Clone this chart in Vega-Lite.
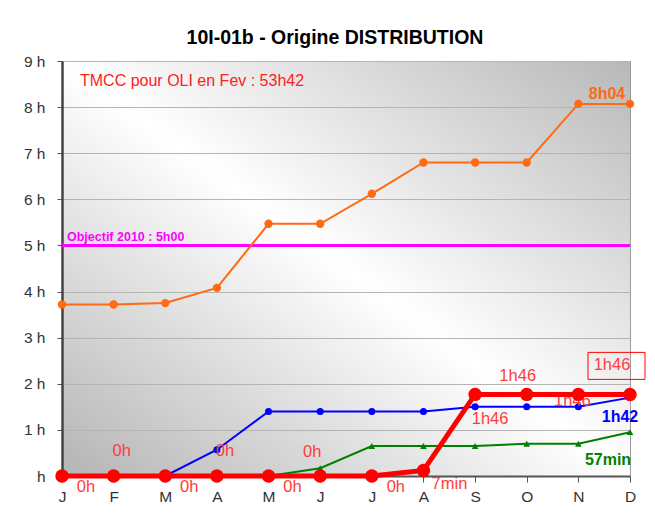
{
  "$schema": "https://vega.github.io/schema/vega-lite/v6.json",
  "width": 568,
  "height": 415,
  "autosize": "none",
  "padding": {"left": 62, "top": 61, "right": 25, "bottom": 45},
  "background": "white",
  "title": {"text": "10I-01b - Origine DISTRIBUTION", "font": "Liberation Sans", "fontSize": 19.5, "fontWeight": "bold", "color": "#000000", "anchor": "middle", "frame": "group", "dx": -11, "offset": 6},
  "config": {
    "font": "Liberation Sans",
    "view": {
      "stroke": "#9a9a9a",
      "fill": {"gradient": "linear", "x1": 0, "y1": 1, "x2": 1, "y2": 0, "stops": [{"offset": 0, "color": "#b4b4b4"}, {"offset": 0.5, "color": "#ffffff"}, {"offset": 1, "color": "#b8b8b8"}]}
    },
    "text": {"font": "Liberation Sans"}
  },
  "datasets": {
    "series": [
      {"s": "TMCC", "m": "Jan", "v": 3.72}, {"s": "TMCC", "m": "Feb", "v": 3.72}, {"s": "TMCC", "m": "Mar", "v": 3.75}, {"s": "TMCC", "m": "Apr", "v": 4.08},
      {"s": "TMCC", "m": "May", "v": 5.47}, {"s": "TMCC", "m": "Jun", "v": 5.47}, {"s": "TMCC", "m": "Jul", "v": 6.12}, {"s": "TMCC", "m": "Aug", "v": 6.8},
      {"s": "TMCC", "m": "Sep", "v": 6.8}, {"s": "TMCC", "m": "Oct", "v": 6.8}, {"s": "TMCC", "m": "Nov", "v": 8.07}, {"s": "TMCC", "m": "Dec", "v": 8.07},
      {"s": "Objectif", "m": "Jan", "v": 5}, {"s": "Objectif", "m": "Feb", "v": 5}, {"s": "Objectif", "m": "Mar", "v": 5}, {"s": "Objectif", "m": "Apr", "v": 5},
      {"s": "Objectif", "m": "May", "v": 5}, {"s": "Objectif", "m": "Jun", "v": 5}, {"s": "Objectif", "m": "Jul", "v": 5}, {"s": "Objectif", "m": "Aug", "v": 5},
      {"s": "Objectif", "m": "Sep", "v": 5}, {"s": "Objectif", "m": "Oct", "v": 5}, {"s": "Objectif", "m": "Nov", "v": 5}, {"s": "Objectif", "m": "Dec", "v": 5},
      {"s": "B", "m": "Jan", "v": 0}, {"s": "B", "m": "Feb", "v": 0}, {"s": "B", "m": "Mar", "v": 0}, {"s": "B", "m": "Apr", "v": 0.57},
      {"s": "B", "m": "May", "v": 1.4}, {"s": "B", "m": "Jun", "v": 1.4}, {"s": "B", "m": "Jul", "v": 1.4}, {"s": "B", "m": "Aug", "v": 1.4},
      {"s": "B", "m": "Sep", "v": 1.5}, {"s": "B", "m": "Oct", "v": 1.5}, {"s": "B", "m": "Nov", "v": 1.5}, {"s": "B", "m": "Dec", "v": 1.7},
      {"s": "V", "m": "Jan", "v": 0}, {"s": "V", "m": "Feb", "v": 0}, {"s": "V", "m": "Mar", "v": 0}, {"s": "V", "m": "Apr", "v": 0},
      {"s": "V", "m": "May", "v": 0}, {"s": "V", "m": "Jun", "v": 0.17}, {"s": "V", "m": "Jul", "v": 0.65}, {"s": "V", "m": "Aug", "v": 0.65},
      {"s": "V", "m": "Sep", "v": 0.65}, {"s": "V", "m": "Oct", "v": 0.7}, {"s": "V", "m": "Nov", "v": 0.7}, {"s": "V", "m": "Dec", "v": 0.95},
      {"s": "R", "m": "Jan", "v": 0}, {"s": "R", "m": "Feb", "v": 0}, {"s": "R", "m": "Mar", "v": 0}, {"s": "R", "m": "Apr", "v": 0},
      {"s": "R", "m": "May", "v": 0}, {"s": "R", "m": "Jun", "v": 0}, {"s": "R", "m": "Jul", "v": 0}, {"s": "R", "m": "Aug", "v": 0.12},
      {"s": "R", "m": "Sep", "v": 1.77}, {"s": "R", "m": "Oct", "v": 1.77}, {"s": "R", "m": "Nov", "v": 1.77}, {"s": "R", "m": "Dec", "v": 1.77}
    ],
    "labels": [
      {"m": "Jan", "v": 0, "t": "0h"}, {"m": "Feb", "v": 0, "t": "0h"}, {"m": "Mar", "v": 0, "t": "0h"}, {"m": "Apr", "v": 0, "t": "0h"},
      {"m": "May", "v": 0, "t": "0h"}, {"m": "Jun", "v": 0, "t": "0h"}, {"m": "Jul", "v": 0, "t": "0h"}, {"m": "Aug", "v": 0.12, "t": "7min"},
      {"m": "Sep", "v": 1.77, "t": "1h46"}, {"m": "Oct", "v": 1.77, "t": "1h46"}, {"m": "Nov", "v": 1.77, "t": "1h46"}, {"m": "Dec", "v": 1.77, "t": "1h46"}
    ],
    "notes": [
      {"s": "TMCC", "m": "Dec", "v": 8.07, "t": "8h04"},
      {"s": "B", "m": "Dec", "v": 1.7, "t": "1h42"},
      {"s": "V", "m": "Dec", "v": 0.95, "t": "57min"},
      {"s": "Objectif", "m": "Jan", "v": 5, "t": "Objectif 2010 : 5h00"},
      {"s": "note", "m": "Jan", "v": 9, "t": "TMCC pour OLI en Fev : 53h42"}
    ]
  },
  "encoding": {
    "x": {
      "field": "m", "type": "ordinal",
      "sort": ["Jan", "Feb", "Mar", "Apr", "May", "Jun", "Jul", "Aug", "Sep", "Oct", "Nov", "Dec"],
      "scale": {"type": "point", "padding": 0, "domain": ["Jan", "Feb", "Mar", "Apr", "May", "Jun", "Jul", "Aug", "Sep", "Oct", "Nov", "Dec"]},
      "axis": {"title": null, "labelExpr": "substring(datum.label, 0, 1)", "labelAngle": 0, "labelFont": "Liberation Sans", "labelFontSize": 15.5, "labelColor": "#333333", "tickSize": 6, "tickColor": "#555555", "domainColor": "#555555", "domainWidth": 2, "labelPadding": 7, "grid": false}
    },
    "y": {
      "field": "v", "type": "quantitative",
      "scale": {"domain": [0, 9], "nice": false, "zero": true},
      "axis": {"title": null, "values": [0, 1, 2, 3, 4, 5, 6, 7, 8, 9], "labelExpr": "datum.value == 0 ? 'h' : datum.value + ' h'", "labelFont": "Liberation Sans", "labelFontSize": 15.5, "labelColor": "#333333", "tickSize": 5, "tickColor": "#555555", "domainColor": "#444444", "domainWidth": 2.5, "labelPadding": 12, "grid": true, "gridColor": "#b4b4b4", "gridWidth": 1}
    }
  },
  "layer": [
    {"data": {"name": "series"}, "transform": [{"filter": "datum.s == 'Objectif'"}], "mark": {"type": "line", "color": "#ff00ff", "strokeWidth": 3}},
    {"data": {"name": "series"}, "transform": [{"filter": "datum.s == 'TMCC'"}], "mark": {"type": "line", "color": "#ff6a13", "strokeWidth": 2, "point": {"filled": true, "size": 70, "color": "#ff6a13"}}},
    {"data": {"name": "series"}, "transform": [{"filter": "datum.s == 'V'"}], "mark": {"type": "line", "color": "#008000", "strokeWidth": 2, "point": {"filled": true, "size": 45, "shape": "triangle-up", "color": "#008000"}}},
    {"data": {"name": "series"}, "transform": [{"filter": "datum.s == 'B'"}], "mark": {"type": "line", "color": "#0000ff", "strokeWidth": 2, "point": {"filled": true, "size": 50, "color": "#0000ff"}}},
    {"data": {"name": "labels"}, "transform": [{"filter": "datum.m == 'Nov'"}], "mark": {"type": "text", "color": "#ff3c3c", "fontSize": 16.5, "dx": -6, "dy": 7}, "encoding": {"text": {"field": "t"}}},
    {"data": {"name": "series"}, "transform": [{"filter": "datum.s == 'R'"}], "mark": {"type": "line", "color": "#ff0000", "strokeWidth": 5, "point": {"filled": true, "size": 180, "color": "#ff0000"}}},
    {"data": {"name": "labels"}, "transform": [{"filter": {"field": "m", "oneOf": ["Jan", "Mar", "May", "Jul"]}}], "mark": {"type": "text", "color": "#ff3c3c", "fontSize": 16.5, "dx": 24, "dy": 11}, "encoding": {"text": {"field": "t"}}},
    {"data": {"name": "labels"}, "transform": [{"filter": {"field": "m", "oneOf": ["Feb", "Apr"]}}], "mark": {"type": "text", "color": "#ff3c3c", "fontSize": 16.5, "dx": 8, "dy": -25}, "encoding": {"text": {"field": "t"}}},
    {"data": {"name": "labels"}, "transform": [{"filter": "datum.m == 'Jun'"}], "mark": {"type": "text", "color": "#ff3c3c", "fontSize": 16.5, "dx": -8, "dy": -24}, "encoding": {"text": {"field": "t"}}},
    {"data": {"name": "labels"}, "transform": [{"filter": "datum.m == 'Aug'"}], "mark": {"type": "text", "color": "#ff3c3c", "fontSize": 16.5, "dx": 26, "dy": 14}, "encoding": {"text": {"field": "t"}}},
    {"data": {"name": "labels"}, "transform": [{"filter": "datum.m == 'Sep'"}], "mark": {"type": "text", "color": "#ff3c3c", "fontSize": 16.5, "dx": 15, "dy": 25}, "encoding": {"text": {"field": "t"}}},
    {"data": {"name": "labels"}, "transform": [{"filter": "datum.m == 'Oct'"}], "mark": {"type": "text", "color": "#ff3c3c", "fontSize": 16.5, "dx": -9, "dy": -18}, "encoding": {"text": {"field": "t"}}},
    {"data": {"name": "labels"}, "transform": [{"filter": "datum.m == 'Dec'"}], "mark": {"type": "text", "color": "#ff3c3c", "fontSize": 16.5, "dx": -18, "dy": -29}, "encoding": {"text": {"field": "t"}}},
    {"data": {"name": "labels"}, "transform": [{"filter": "datum.m == 'Dec'"}], "mark": {"type": "point", "shape": "M-1.4,-1.4L0.5,-1.4L0.5,-0.5L-1.4,-0.5Z", "size": 3600, "filled": false, "stroke": "#ff0000", "strokeWidth": 1, "opacity": 1}},
    {"data": {"name": "notes"}, "transform": [{"filter": "datum.s == 'TMCC'"}], "mark": {"type": "text", "color": "#ff6a13", "fontSize": 16, "fontWeight": "bold", "dx": -23, "dy": -10}, "encoding": {"text": {"field": "t"}}},
    {"data": {"name": "notes"}, "transform": [{"filter": "datum.s == 'B'"}], "mark": {"type": "text", "color": "#0000ff", "fontSize": 16, "fontWeight": "bold", "dx": -10, "dy": 19}, "encoding": {"text": {"field": "t"}}},
    {"data": {"name": "notes"}, "transform": [{"filter": "datum.s == 'V'"}], "mark": {"type": "text", "color": "#008000", "fontSize": 16, "fontWeight": "bold", "dx": -22, "dy": 28}, "encoding": {"text": {"field": "t"}}},
    {"data": {"name": "notes"}, "transform": [{"filter": "datum.s == 'Objectif'"}], "mark": {"type": "text", "color": "#ff00ff", "fontSize": 12.5, "fontWeight": "bold", "align": "left", "dx": 5, "dy": -8}, "encoding": {"text": {"field": "t"}}},
    {"data": {"name": "notes"}, "transform": [{"filter": "datum.s == 'note'"}], "mark": {"type": "text", "color": "#ff2020", "fontSize": 16, "align": "left", "dx": 18, "dy": 20}, "encoding": {"text": {"field": "t"}}}
  ]
}
